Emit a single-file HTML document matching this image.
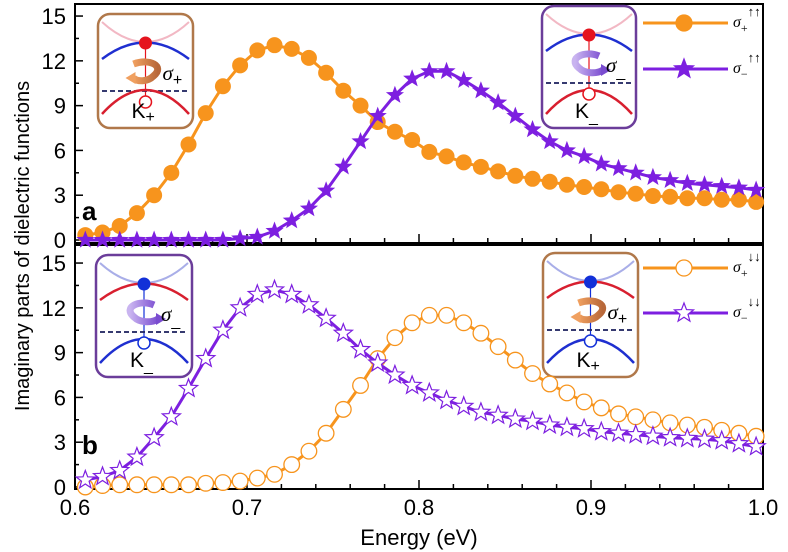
<!DOCTYPE html>
<html><head><meta charset="utf-8"><style>
body{margin:0;background:#fff}
svg{display:block;font-family:"Liberation Sans",sans-serif}
</style></head><body>
<svg id="c" width="788" height="552" viewBox="0 0 788 552">
<defs>
<linearGradient id="gO" x1="0" x2="1"><stop offset="0" stop-color="#f0a060"/><stop offset="1" stop-color="#b8683a"/></linearGradient>
<linearGradient id="gP" x1="0" x2="1"><stop offset="0" stop-color="#c9b4f0"/><stop offset="1" stop-color="#7a4cd0"/></linearGradient>
</defs>
</svg>
<script>
const energies=[0.606,0.616,0.626,0.636,0.646,0.656,0.666,0.676,0.686,0.696,0.706,0.716,0.726,0.736,0.746,0.756,0.766,0.776,0.786,0.796,0.806,0.816,0.826,0.836,0.846,0.856,0.866,0.876,0.886,0.896,0.906,0.916,0.926,0.936,0.946,0.956,0.966,0.976,0.986,0.996];
const sigmaPlusUp=[0.33,0.5,0.94,1.8,3.0,4.5,6.4,8.5,10.3,11.7,12.7,13.05,12.8,12.2,11.2,10.0,9.0,7.9,7.25,6.7,5.9,5.6,5.2,4.9,4.6,4.3,4.1,3.9,3.7,3.55,3.4,3.2,3.1,2.95,2.9,2.8,2.8,2.7,2.7,2.55];
const sigmaMinusUp=[0,0,0,0,0,0,0,0,0,0.1,0.2,0.6,1.3,2.1,3.3,4.9,6.6,8.3,9.7,10.8,11.3,11.3,10.7,10.0,9.2,8.3,7.4,6.6,6.0,5.6,5.1,4.8,4.5,4.2,4.0,3.8,3.7,3.6,3.5,3.35];
const sigmaPlusDown=[0,0.1,0.15,0.15,0.15,0.15,0.15,0.25,0.3,0.4,0.6,0.85,1.5,2.4,3.6,5.2,6.8,8.6,10.0,11.0,11.5,11.5,11.0,10.3,9.4,8.5,7.6,6.9,6.3,5.7,5.3,4.9,4.7,4.5,4.3,4.15,4.0,3.8,3.6,3.4];
const sigmaMinusDown=[0.47,0.7,1.1,2.0,3.3,4.7,6.6,8.6,10.5,12.0,12.9,13.2,12.9,12.2,11.3,10.3,9.2,8.3,7.5,6.8,6.3,5.8,5.4,5.0,4.8,4.55,4.4,4.15,4.0,3.9,3.7,3.6,3.5,3.4,3.3,3.25,3.2,3.1,2.9,2.7];
const yTicks=[0,3,6,9,12,15];
const xTicks=[0.6,0.7,0.8,0.9,1.0];

const NS="http://www.w3.org/2000/svg";
const svg=document.getElementById('c');
const OR="#f7941d",PU="#7d1fe0";
const L=75,R=763;
const xs=e=>L+(e-0.6)/0.4*(R-L);
const panels=[{y0:240,top:4,bot:243,name:'panel-a'},{y0:487,top:245,bot:489,name:'panel-b'}];
const ys=(p,v)=>p.y0-v*14.93;
function el(t,a,par){const e=document.createElementNS(NS,t);for(const k in a)e.setAttribute(k,a[k]);(par||svg).appendChild(e);return e;}
function starPts(cx,cy,r){let s=[];for(let i=0;i<10;i++){const a=-Math.PI/2+i*Math.PI/5;const rr=i%2?r*0.42:r;s.push((cx+rr*Math.cos(a)).toFixed(1)+','+(cy+rr*Math.sin(a)).toFixed(1));}return s.join(' ');}

function series(p,vals,color,marker,filled,name){
  const g=el('g',{});
  
  
  const d=vals.map((v,i)=>(i?'L':'M')+xs(energies[i]).toFixed(1)+','+ys(p,v).toFixed(1)).join('');
  el('path',{d:d,fill:'none',stroke:color,'stroke-width':3},g);
  vals.forEach((v,i)=>{
    const cx=xs(energies[i]),cy=ys(p,v);let m;
    if(marker==='c')m=el('circle',{cx:cx,cy:cy,r:filled?8:7.8,fill:filled?color:'#fff','stroke':color,'stroke-width':filled?0:1.3},g);
    else m=el('polygon',{points:starPts(cx,cy,filled?9.5:9.5),fill:filled?color:'#fff',stroke:color,'stroke-width':filled?0:1.2},g);
    
    
  });
}

panels.forEach((p,pi)=>{
  const f=el('rect',{x:L,y:p.top,width:R-L,height:p.bot-p.top,fill:'none',stroke:'#000','stroke-width':2});
  
  
  for(let v=0;v<=15.01;v+=1.5){const y=ys(p,v);const maj=Math.abs(v/3-Math.round(v/3))<0.01;el('line',{x1:L,x2:L+(maj?8:4),y1:y,y2:y,stroke:'#000','stroke-width':1.5});}
  yTicks.forEach(v=>{const t=el('text',{x:66,y:ys(p,v)+8,'font-size':22,'text-anchor':'end'});t.textContent=v;
    
    });
  for(let k=0;k<=20;k++){const x=xs(0.6+k*0.02);const maj=k%5===0;el('line',{x1:x,x2:x,y1:p.bot,y2:p.bot-(maj?9:5),stroke:'#000','stroke-width':1.5});}
  const lab=el('text',{x:82,y:pi?p.y0-33:p.y0-20,'font-size':26,'font-weight':'bold'});lab.textContent=pi?'b':'a';
  
  
});
xTicks.forEach(v=>{const t=el('text',{x:xs(v),y:515,'font-size':22,'text-anchor':'middle'});t.textContent=v.toFixed(1);
  
  });
const xt=el('text',{x:419,y:545,'font-size':22,'text-anchor':'middle'});xt.textContent='Energy (eV)';


const yt=el('text',{x:0,y:0,'font-size':20,'text-anchor':'middle',transform:'translate(29,246) rotate(-90)'});yt.textContent='Imaginary parts of dielectric functions';



function inset(x,y,w,h,border,topArc,botArc,dotCol,valley,grad,right,sig,kl,name){
  const g=el('g',{transform:`translate(${x},${y})`});
  
  
  const c=w/2;
  el('rect',{x:0,y:0,width:w,height:h,rx:12,fill:'#fff',stroke:border,'stroke-width':2.5},g);
  el('path',{d:`M4,8 Q${c},${48} ${w-4},8`,fill:'none',stroke:valley,'stroke-width':2},g);
  el('path',{d:`M4,45 Q${c},${12} ${w-4},45`,fill:'none',stroke:topArc,'stroke-width':2.5},g);
  el('line',{x1:c,x2:c,y1:28,y2:88,stroke:dotCol,'stroke-width':1.2},g);
  // helical arrow
  if(right){
    el('path',{d:`M${c+10},50 C${c-4},44 ${c-22},52 ${c-10},62 C${c-4},68 ${c+8},68 ${c+14},64`,fill:'none',stroke:`url(#${grad})`,'stroke-width':7},g);
    el('polygon',{points:`${c+12},58 ${c+22},64 ${c+12},70`,fill:'#7a4cd0'},g);
  }else{
    el('path',{d:`M${c-12},50 C${c+4},44 ${c+20},52 ${c+8},62 C${c+2},68 ${c-8},68 ${c-12},64`,fill:'none',stroke:`url(#${grad})`,'stroke-width':7},g);
    el('polygon',{points:`${c-10},58 ${c-20},64 ${c-10},70`,fill:'#f0a060'},g);
  }
  el('line',{x1:4,x2:w-4,y1:77,y2:77,stroke:'#1a1f5c','stroke-width':1.8,'stroke-dasharray':'5,3'},g);
  el('path',{d:`M4,${h-14} Q${c},${h-62} ${w-4},${h-14}`,fill:'none',stroke:botArc,'stroke-width':2.5},g);
  el('circle',{cx:c,cy:29,r:6.5,fill:dotCol},g);
  el('circle',{cx:c,cy:88,r:6,fill:'#fff',stroke:dotCol,'stroke-width':1.5},g);
  const s=el('text',{x:c+17,y:66,'font-size':21,'font-style':'italic','font-family':'"Liberation Serif",serif'},g);s.textContent='σ';
  const ss=el('tspan',{dy:5,'font-size':16,'font-style':'normal','font-family':'"Liberation Sans",sans-serif'},s);ss.textContent=sig==='+'?'+':'_';
  const k=el('text',{x:c-14,y:h-10,'font-size':21},g);k.textContent='K';
  const ks=el('tspan',{dy:4,'font-size':16},k);ks.textContent=kl==='+'?'+':'_';
}
inset(98,14,95,114,'#b0784a','#1f2fd0','#d81f2f','#e5141e','#f2b8c4','gO',false,'+','+','inset-k-plus-a');
inset(542,6,94,122,'#6b3d9a','#1f2fd0','#d81f2f','#e5141e','#f2b8c4','gP',true,'−','−','inset-k-minus-a');
inset(96,255,96,122,'#6b3d9a','#d81f2f','#1f2fd0','#1230d8','#a9aee8','gP',true,'−','−','inset-k-minus-b');
inset(543,253,95,124,'#b0784a','#d81f2f','#1f2fd0','#1230d8','#a9aee8','gO',false,'+','+','inset-k-plus-b');

series(panels[0],sigmaPlusUp,OR,'c',true,'series-sigma-plus-up');
series(panels[0],sigmaMinusUp,PU,'s',true,'series-sigma-minus-up');
series(panels[1],sigmaPlusDown,OR,'c',false,'series-sigma-plus-down');
series(panels[1],sigmaMinusDown,PU,'s',false,'series-sigma-minus-down');

function leg(y,color,marker,filled,sub,arrows,name){
  const g=el('g',{});
  
  
  el('line',{x1:643,x2:728,y1:y,y2:y,stroke:color,'stroke-width':3},g);
  if(marker==='c')el('circle',{cx:684,cy:y,r:8,fill:filled?color:'#fff',stroke:color,'stroke-width':1.3},g);
  else el('polygon',{points:starPts(684,y,10),fill:filled?color:'#fff',stroke:color,'stroke-width':1.2},g);
  const t=el('text',{x:733,y:y+4,'font-size':16,'font-style':'italic','font-family':'"Liberation Serif",serif'},g);t.textContent='σ';
  const a=el('tspan',{dy:5,'font-size':12,'font-style':'normal'},t);a.textContent=sub;
  const b=el('tspan',{dy:-16,'font-size':13,'font-style':'normal'},t);b.textContent=arrows;
}
leg(23,OR,'c',true,'+','↑↑','legend-sigma-plus-up');
leg(69,PU,'s',true,'−','↑↑','legend-sigma-minus-up');
leg(268,OR,'c',false,'+','↓↓','legend-sigma-plus-down');
leg(313,PU,'s',false,'−','↓↓','legend-sigma-minus-down');
</script>
</body></html>
